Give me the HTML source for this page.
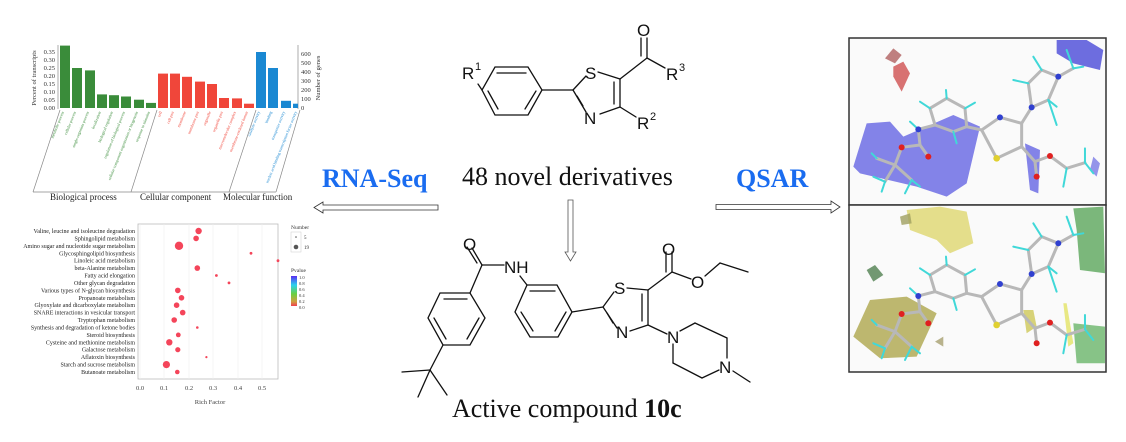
<!DOCTYPE html>
<html><head><meta charset="utf-8"><style>
html,body{margin:0;padding:0;background:#fff;}
svg{display:block;}
</style></head><body>
<svg width="1126" height="442" viewBox="0 0 1126 442" xmlns="http://www.w3.org/2000/svg" font-family="Liberation Serif, serif">
<rect width="1126" height="442" fill="#fff"/>

<!-- ===== GO bar chart ===== -->
<g>
<line x1="58" y1="45" x2="58" y2="109" stroke="#888" stroke-width="0.7"/>
<g font-size="6.5" fill="#333" text-anchor="end">
<text x="55" y="110">0.00</text><text x="55" y="102">0.05</text><text x="55" y="94">0.10</text><text x="55" y="86">0.15</text>
<text x="55" y="78">0.20</text><text x="55" y="70">0.25</text><text x="55" y="62">0.30</text><text x="55" y="54">0.35</text>
</g>
<text x="36" y="78" font-size="6.5" fill="#333" text-anchor="middle" transform="rotate(-90 36 78)">Percent of transcripts</text>
<line x1="298" y1="45" x2="298" y2="109" stroke="#888" stroke-width="0.7"/>
<g font-size="6.5" fill="#333">
<text x="301" y="110">0</text><text x="301" y="101">100</text><text x="301" y="92">200</text><text x="301" y="83">300</text>
<text x="301" y="74">400</text><text x="301" y="65">500</text><text x="301" y="56">600</text>
</g>
<text x="320" y="78" font-size="6.5" fill="#333" text-anchor="middle" transform="rotate(-90 320 78)">Number of genes</text>
<g fill="#3a8c3a">
<rect x="60" y="45.6" width="10" height="62.4"/><rect x="72" y="68" width="10" height="40"/><rect x="85" y="70.4" width="10" height="37.6"/>
<rect x="97" y="94.4" width="10" height="13.6"/><rect x="109" y="95.2" width="10" height="12.8"/><rect x="121" y="96.5" width="10" height="11.5"/>
<rect x="134" y="99.7" width="10" height="8.3"/><rect x="146" y="102.9" width="10" height="5.1"/>
</g>
<g fill="#f0463a">
<rect x="158" y="73.6" width="10" height="34.4"/><rect x="170" y="73.6" width="10" height="34.4"/><rect x="182" y="76.8" width="10" height="31.2"/>
<rect x="195" y="81.6" width="10" height="26.4"/><rect x="207" y="84" width="10" height="24"/><rect x="219" y="98" width="10" height="10"/>
<rect x="232" y="98.4" width="10" height="9.6"/><rect x="244" y="103.7" width="10" height="4.3"/>
</g>
<g fill="#1a88d2">
<rect x="256" y="52" width="10" height="56"/><rect x="268" y="68" width="10" height="40"/><rect x="281" y="100.8" width="10" height="7.2"/><rect x="293" y="103.7" width="5" height="4.3"/>
</g>
<g stroke="#888" stroke-width="0.7" fill="none">
<line x1="60" y1="110" x2="33" y2="192"/><line x1="157" y1="110" x2="131" y2="192"/>
<line x1="256" y1="110" x2="229" y2="192"/><line x1="300" y1="110" x2="276" y2="192"/>
<line x1="33" y1="192" x2="276" y2="192"/>
</g>
<g font-size="4" fill="#3a8c3a">
<text transform="translate(64,112) rotate(-68)" text-anchor="end">metabolic process</text>
<text transform="translate(76,112) rotate(-68)" text-anchor="end">cellular process</text>
<text transform="translate(89,112) rotate(-68)" text-anchor="end">single-organism process</text>
<text transform="translate(101,112) rotate(-68)" text-anchor="end">localization</text>
<text transform="translate(113,112) rotate(-68)" text-anchor="end">biological regulation</text>
<text transform="translate(125,112) rotate(-68)" text-anchor="end">regulation of biological process</text>
<text transform="translate(138,112) rotate(-68)" text-anchor="end">cellular component organization or biogenesis</text>
<text transform="translate(150,112) rotate(-68)" text-anchor="end">response to stimulus</text>
</g>
<g font-size="4" fill="#f0463a">
<text transform="translate(162,112) rotate(-68)" text-anchor="end">cell</text>
<text transform="translate(174,112) rotate(-68)" text-anchor="end">cell part</text>
<text transform="translate(186,112) rotate(-68)" text-anchor="end">membrane</text>
<text transform="translate(199,112) rotate(-68)" text-anchor="end">membrane part</text>
<text transform="translate(211,112) rotate(-68)" text-anchor="end">organelle</text>
<text transform="translate(223,112) rotate(-68)" text-anchor="end">organelle part</text>
<text transform="translate(236,112) rotate(-68)" text-anchor="end">macromolecular complex</text>
<text transform="translate(248,112) rotate(-68)" text-anchor="end">membrane-enclosed lumen</text>
</g>
<g font-size="4" fill="#1a88d2">
<text transform="translate(260,112) rotate(-68)" text-anchor="end">catalytic activity</text>
<text transform="translate(272,112) rotate(-68)" text-anchor="end">binding</text>
<text transform="translate(285,112) rotate(-68)" text-anchor="end">transporter activity</text>
<text transform="translate(297,112) rotate(-68)" text-anchor="end">nucleic acid binding transcription factor activity</text>
</g>
<g font-size="9" fill="#222">
<text x="50" y="200">Biological process</text>
<text x="140" y="200">Cellular component</text>
<text x="223" y="200">Molecular function</text>
</g>
</g>

<!-- ===== KEGG dot plot ===== -->
<g>
<rect x="138" y="224" width="140" height="155" fill="#fff" stroke="#bbb" stroke-width="0.8"/>
<g stroke="#eee" stroke-width="0.6">
<line x1="140" y1="224" x2="140" y2="379"/><line x1="164" y1="224" x2="164" y2="379"/><line x1="189" y1="224" x2="189" y2="379"/>
<line x1="213" y1="224" x2="213" y2="379"/><line x1="238" y1="224" x2="238" y2="379"/><line x1="262" y1="224" x2="262" y2="379"/>
</g>
<g font-size="6" fill="#222" text-anchor="end">
<text x="135" y="233">Valine, leucine and isoleucine degradation</text>
<text x="135" y="240.4">Sphingolipid metabolism</text>
<text x="135" y="247.8">Amino sugar and nucleotide sugar metabolism</text>
<text x="135" y="255.3">Glycosphingolipid biosynthesis</text>
<text x="135" y="262.7">Linoleic acid metabolism</text>
<text x="135" y="270.1">beta-Alanine metabolism</text>
<text x="135" y="277.5">Fatty acid elongation</text>
<text x="135" y="284.9">Other glycan degradation</text>
<text x="135" y="292.4">Various types of N-glycan biosynthesis</text>
<text x="135" y="299.8">Propanoate metabolism</text>
<text x="135" y="307.2">Glyoxylate and dicarboxylate metabolism</text>
<text x="135" y="314.6">SNARE interactions in vesicular transport</text>
<text x="135" y="322">Tryptophan metabolism</text>
<text x="135" y="329.5">Synthesis and degradation of ketone bodies</text>
<text x="135" y="336.9">Steroid biosynthesis</text>
<text x="135" y="344.3">Cysteine and methionine metabolism</text>
<text x="135" y="351.7">Galactose metabolism</text>
<text x="135" y="359.1">Aflatoxin biosynthesis</text>
<text x="135" y="366.6">Starch and sucrose metabolism</text>
<text x="135" y="374">Butanoate metabolism</text>
</g>
<g fill="#f4455a">
<circle cx="198.6" cy="231" r="3.2"/><circle cx="196.1" cy="238.4" r="2.8"/><circle cx="179" cy="245.8" r="4.2"/>
<circle cx="251" cy="253.3" r="1.4"/><circle cx="278" cy="260.7" r="1.4"/><circle cx="197.3" cy="268.1" r="2.8"/>
<circle cx="216.4" cy="275.5" r="1.4"/><circle cx="229" cy="282.9" r="1.4"/><circle cx="177.8" cy="290.4" r="2.8"/>
<circle cx="181.5" cy="297.8" r="2.8"/><circle cx="176.6" cy="305.2" r="2.8"/><circle cx="182.7" cy="312.6" r="2.8"/>
<circle cx="174.2" cy="320" r="2.8"/><circle cx="197.3" cy="327.5" r="1.3"/><circle cx="178.3" cy="334.9" r="2.4"/>
<circle cx="169.3" cy="342.3" r="3.2"/><circle cx="177.8" cy="349.7" r="2.6"/><circle cx="206.4" cy="357.1" r="1.1"/>
<circle cx="166.4" cy="364.6" r="3.6"/><circle cx="177.3" cy="372" r="2.3"/>
</g>
<g font-size="6.5" fill="#444" text-anchor="middle">
<text x="140" y="390">0.0</text><text x="164" y="390">0.1</text><text x="189" y="390">0.2</text>
<text x="213" y="390">0.3</text><text x="238" y="390">0.4</text><text x="262" y="390">0.5</text>
</g>
<text x="210" y="404" font-size="6.5" fill="#444" text-anchor="middle">Rich Factor</text>
<text x="291" y="229" font-size="5.5" fill="#333">Number</text>
<rect x="291" y="232" width="10" height="20" fill="#fff" stroke="#ccc" stroke-width="0.5"/>
<circle cx="296" cy="237" r="0.8" fill="#555"/><circle cx="296" cy="247" r="2.3" fill="#555"/>
<text x="304" y="239" font-size="5" fill="#333">5</text><text x="304" y="249" font-size="5" fill="#333">19</text>
<text x="291" y="272" font-size="5.5" fill="#333">Pvalue</text>
<defs><linearGradient id="pv" x1="0" y1="0" x2="0" y2="1">
<stop offset="0" stop-color="#5a2cf0"/><stop offset="0.3" stop-color="#2ad0f0"/><stop offset="0.6" stop-color="#6ad040"/><stop offset="0.85" stop-color="#d0a040"/><stop offset="1" stop-color="#f04050"/>
</linearGradient></defs>
<rect x="291" y="276" width="6" height="30" fill="url(#pv)"/>
<g font-size="4.5" fill="#333"><text x="299" y="279">1.0</text><text x="299" y="285">0.8</text><text x="299" y="291">0.6</text><text x="299" y="297">0.4</text><text x="299" y="303">0.2</text><text x="299" y="309">0.0</text></g>
</g>

<!-- ===== Texts and arrows ===== -->
<text x="322" y="187" font-size="26" font-weight="bold" fill="#1a6cf0">RNA-Seq</text>
<text x="736" y="187" font-size="26" font-weight="bold" fill="#1a6cf0">QSAR</text>
<path d="M314,207.5 L323,202 L323,205 L438,205 L438,210 L323,210 L323,213 Z" fill="#fff" stroke="#333" stroke-width="0.8"/>
<path d="M840,207 L831,201 L831,204.5 L716,204.5 L716,209.5 L831,209.5 L831,213 Z" fill="#fff" stroke="#333" stroke-width="0.8"/>
<path d="M570.5,261 L565,252 L568,252 L568,200 L573,200 L573,252 L576,252 Z" fill="#fff" stroke="#555" stroke-width="0.8"/>

<!-- ===== Top molecule ===== -->
<g stroke="#111" stroke-width="1.3" fill="none" stroke-linecap="round">
<polygon points="495,67 528,67 542,90 528,115 495,115 482,90"/>
<line x1="497" y1="73" x2="526" y2="73"/><line x1="536" y1="91" x2="525" y2="109"/><line x1="488" y1="91" x2="498" y2="109"/>
<line x1="482" y1="90" x2="478" y2="84"/>
<line x1="542" y1="90" x2="573" y2="90"/>
<line x1="573" y1="90" x2="586" y2="76"/><line x1="598" y1="72" x2="620" y2="79"/>
<line x1="620" y1="79" x2="620" y2="107"/><line x1="614" y1="82" x2="614" y2="104"/>
<line x1="620" y1="107" x2="600" y2="114"/><line x1="586" y1="112" x2="573" y2="90"/><line x1="583" y1="106" x2="577" y2="96"/>
<line x1="620" y1="79" x2="647" y2="58"/><line x1="647" y1="58" x2="647" y2="38"/><line x1="641" y1="56" x2="641" y2="38"/>
<line x1="647" y1="58" x2="665" y2="68"/>
<line x1="620" y1="107" x2="636" y2="117"/>
</g>
<g font-family="Liberation Sans, sans-serif" font-size="17" fill="#111">
<text x="585" y="79">S</text><text x="584" y="124">N</text><text x="637" y="36">O</text>
<text x="462" y="79">R</text><text x="475" y="70" font-size="11">1</text>
<text x="666" y="80">R</text><text x="679" y="71" font-size="11">3</text>
<text x="637" y="129">R</text><text x="650" y="120" font-size="11">2</text>
</g>
<text x="462" y="185" font-size="26" fill="#111">48 novel derivatives</text>

<!-- ===== Bottom molecule ===== -->
<g stroke="#111" stroke-width="1.3" fill="none" stroke-linecap="round">
<line x1="430" y1="370" x2="402" y2="372"/><line x1="430" y1="370" x2="418" y2="397"/><line x1="430" y1="370" x2="447" y2="395"/>
<line x1="430" y1="370" x2="443" y2="345"/>
<polygon points="443,345 470,345 485,318 470,293 440,293 428,318"/>
<line x1="444" y1="299" x2="467" y2="299"/><line x1="479" y1="318" x2="467" y2="339"/><line x1="434" y1="318" x2="446" y2="339"/>
<line x1="470" y1="293" x2="482" y2="265"/><line x1="482" y1="265" x2="472" y2="248"/><line x1="477" y1="263" x2="467" y2="247"/>
<line x1="482" y1="265" x2="504" y2="265"/><line x1="520" y1="276" x2="527" y2="285"/>
<polygon points="527,285 557,285 572,312 558,337 530,337 515,312"/>
<line x1="530" y1="291" x2="555" y2="291"/><line x1="566" y1="312" x2="555" y2="331"/><line x1="521" y1="312" x2="533" y2="331"/>
<line x1="572" y1="312" x2="603" y2="307"/>
<line x1="603" y1="307" x2="614" y2="292"/><line x1="627" y1="288" x2="648" y2="290"/>
<line x1="648" y1="290" x2="648" y2="325"/><line x1="642" y1="294" x2="642" y2="321"/>
<line x1="648" y1="325" x2="630" y2="331"/><line x1="617" y1="328" x2="603" y2="307"/><line x1="613" y1="323" x2="607" y2="313"/>
<line x1="648" y1="290" x2="672" y2="272"/><line x1="672" y1="272" x2="672" y2="252"/><line x1="666" y1="272" x2="666" y2="252"/>
<line x1="672" y1="272" x2="691" y2="279"/><line x1="705" y1="276" x2="720" y2="263"/><line x1="720" y1="263" x2="748" y2="272"/>
<line x1="648" y1="325" x2="667" y2="334"/>
<line x1="680" y1="331" x2="695" y2="323"/><line x1="695" y1="323" x2="727" y2="338"/><line x1="727" y1="338" x2="727" y2="358"/>
<line x1="673" y1="344" x2="673" y2="363"/><line x1="673" y1="363" x2="702" y2="378"/><line x1="702" y1="378" x2="719" y2="370"/>
<line x1="733" y1="371" x2="750" y2="382"/>
</g>
<g font-family="Liberation Sans, sans-serif" font-size="17" fill="#111">
<text x="463" y="250">O</text><text x="504" y="273">NH</text><text x="614" y="294">S</text><text x="616" y="338">N</text>
<text x="662" y="255">O</text><text x="691" y="288">O</text><text x="667" y="343">N</text><text x="719" y="373">N</text>
</g>
<text x="452" y="417" font-size="26" fill="#111">Active compound <tspan font-weight="bold">10c</tspan></text>

<!-- ===== QSAR panels ===== -->
<rect x="849" y="38" width="257" height="167" fill="#fafafa" stroke="#333" stroke-width="1.5"/>
<rect x="849" y="205" width="257" height="167" fill="#fafafa" stroke="#333" stroke-width="1.5"/>
<defs>
<g id="mol">
<g stroke="#b8b8b8" stroke-width="9" stroke-linecap="round" fill="none">
<polyline points="270,235 320,205 375,235 380,290 340,305 285,285 270,235"/>
<line x1="380" y1="290" x2="425" y2="300"/>
<polyline points="425,300 480,262 545,280 545,350 470,385 425,300"/>
<line x1="545" y1="280" x2="575" y2="232"/>
<polyline points="575,232 625,210 655,140 605,120 565,160 575,232"/>
<line x1="655" y1="140" x2="700" y2="115"/>
<line x1="545" y1="350" x2="585" y2="395"/><line x1="585" y1="395" x2="590" y2="440"/>
<line x1="585" y1="395" x2="630" y2="378"/><line x1="630" y1="378" x2="680" y2="415"/><line x1="680" y1="415" x2="735" y2="398"/>
<line x1="285" y1="285" x2="235" y2="298"/><line x1="235" y1="298" x2="240" y2="345"/><line x1="240" y1="345" x2="265" y2="380"/>
<line x1="240" y1="345" x2="185" y2="352"/><line x1="185" y1="352" x2="165" y2="405"/>
<line x1="165" y1="405" x2="110" y2="385"/><line x1="165" y1="405" x2="135" y2="455"/><line x1="165" y1="405" x2="215" y2="450"/>
</g>
<g stroke="#40d8d8" stroke-width="6" stroke-linecap="round">
<line x1="320" y1="205" x2="318" y2="180"/><line x1="375" y1="235" x2="405" y2="218"/><line x1="270" y1="235" x2="240" y2="215"/>
<line x1="340" y1="305" x2="350" y2="340"/><line x1="235" y1="298" x2="210" y2="275"/>
<line x1="625" y1="210" x2="650" y2="230"/><line x1="625" y1="210" x2="650" y2="285"/><line x1="565" y1="160" x2="520" y2="150"/>
<line x1="605" y1="120" x2="580" y2="80"/><line x1="700" y1="115" x2="730" y2="110"/><line x1="700" y1="115" x2="680" y2="60"/>
<line x1="680" y1="415" x2="670" y2="470"/><line x1="735" y1="398" x2="760" y2="430"/><line x1="735" y1="398" x2="735" y2="355"/>
<line x1="110" y1="385" x2="95" y2="370"/><line x1="135" y1="455" x2="125" y2="485"/><line x1="215" y1="450" x2="240" y2="470"/>
<line x1="135" y1="455" x2="100" y2="440"/><line x1="215" y1="450" x2="195" y2="490"/>
</g>
<circle cx="480" cy="262" r="9" fill="#3040d0"/><circle cx="575" cy="232" r="9" fill="#3040d0"/><circle cx="655" cy="140" r="9" fill="#3040d0"/>
<circle cx="235" cy="298" r="9" fill="#3040d0"/><circle cx="470" cy="385" r="10" fill="#e0d030"/>
<circle cx="590" cy="440" r="9" fill="#e02020"/><circle cx="630" cy="378" r="9" fill="#e02020"/>
<circle cx="265" cy="380" r="9" fill="#e02020"/><circle cx="185" cy="352" r="9" fill="#e02020"/>
</g>
</defs>
<g transform="translate(840,30) scale(0.3333)">
<polygon points="40,410 80,280 150,275 190,320 340,255 420,290 380,460 320,500 230,470 60,430" fill="#5050e0" opacity="0.7"/>
<polygon points="650,30 740,30 790,60 780,120 700,100 650,70" fill="#4a4ad8" opacity="0.8"/>
<polygon points="555,340 600,360 595,490 570,480" fill="#5050e0" opacity="0.7"/>
<polygon points="760,380 780,400 770,440 750,420" fill="#5050e0" opacity="0.6"/>
<polygon points="135,85 160,55 185,75 165,100" fill="#b06060" opacity="0.8"/>
<polygon points="160,110 190,95 210,130 185,185 160,140" fill="#d05050" opacity="0.8"/>
<use href="#mol"/>
</g>
<g transform="translate(840,30) scale(0.3333)">
<polygon points="200,540 300,530 380,545 400,640 330,670 290,630 210,600" fill="#d8d050" opacity="0.65"/>
<polygon points="180,560 210,550 215,580 185,585" fill="#a0a060" opacity="0.8"/>
<polygon points="700,535 790,530 795,730 720,720 710,600" fill="#50a050" opacity="0.75"/>
<polygon points="700,880 795,890 795,1000 710,1000" fill="#60b060" opacity="0.75"/>
<polygon points="80,720 105,705 130,735 100,755" fill="#508050" opacity="0.8"/>
<polygon points="40,920 90,810 200,800 290,850 230,980 120,985" fill="#a8a040" opacity="0.75"/>
<polygon points="285,935 310,920 310,950" fill="#a8a070" opacity="0.8"/>
<polygon points="550,840 580,840 590,890 560,910" fill="#c8c040" opacity="0.7"/>
<polygon points="670,820 680,820 700,940 685,950" fill="#e0e050" opacity="0.7"/>
<g transform="translate(0,500)"><use href="#mol"/></g>
</g>
</svg>
</body></html>
